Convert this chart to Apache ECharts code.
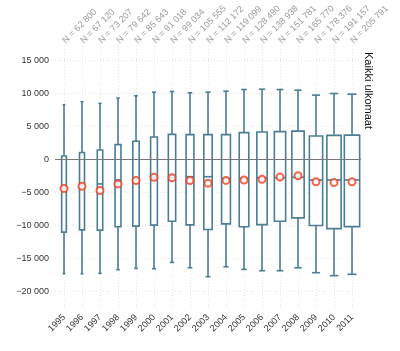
<!DOCTYPE html>
<html>
<head>
<meta charset="utf-8">
<script src="https://cdn.jsdelivr.net/npm/echarts@6/dist/echarts.min.js"></script>
<style>html,body{margin:0;padding:0;background:#fff}#c{width:400px;height:351px}</style>
</head>
<body>
<div id="c"></div>
<script>
var years = ['1995','1996','1997','1998','1999','2000','2001','2002','2003','2004','2005','2006','2007','2008','2009','2010','2011'];
var nCounts = [62800, 67120, 73207, 79642, 85643, 91018, 99034, 105555, 112172, 119099, 128490, 138938, 151781, 165770, 178376, 191157, 205791];
var whiskerHigh = [8300, 8750, 8500, 9300, 9650, 10200, 10300, 10100, 10200, 10350, 10600, 10650, 10600, 10500, 9750, 10000, 9900];
var q3 = [540, 1050, 1450, 2260, 2760, 3400, 3800, 3770, 3770, 3770, 4070, 4160, 4220, 4300, 3560, 3660, 3700];
var median = [-4400, -3900, -3700, -3100, -3000, -2700, -2800, -2600, -2600, -2870, -2870, -2770, -2800, -2700, -3100, -3100, -3100];
var q1 = [-11000, -10660, -10700, -10200, -10100, -9950, -9350, -9900, -10600, -9760, -10200, -9860, -9350, -8850, -10000, -10470, -10170];
var whiskerLow = [-17300, -17300, -17250, -16700, -16500, -16550, -15600, -16400, -17750, -16250, -16650, -16850, -16850, -16400, -17150, -17600, -17400];
var means = [-4400, -4050, -4700, -3700, -3200, -2700, -2770, -3200, -3600, -3170, -3100, -3000, -2670, -2470, -3380, -3500, -3380];
var yTicks = [-20000, -15000, -10000, -5000, 0, 5000, 10000, 15000];
var panelTitle = 'Kaikki ulkomaat';

function fmtNum(v) {
  var a = Math.abs(v);
  var s = String(a).replace(/\B(?=(\d{3})+(?!\d))/g, ' ');
  return (v < 0 ? '\u2212' : '') + s;
}

var nMax = Math.max.apply(null, nCounts);
var boxData = years.map(function (y, i) {
  return [i, whiskerLow[i], q1[i], median[i], q3[i], whiskerHigh[i], nCounts[i]];
});
var BOX = '#4b7d94';
var GRID = {color: '#dcdcdc', type: [1, 2], width: 0.8};

var chart = echarts.init(document.getElementById('c'), null, {renderer: 'canvas'});
chart.setOption({
  animation: false,
  backgroundColor: '#fff',
  textStyle: {fontFamily: 'Liberation Sans, Arial, sans-serif'},
  grid: {left: 55, right: 39, top: 44, bottom: 43},
  xAxis: [{
    type: 'category', data: years, position: 'bottom',
    axisLine: {show: false}, axisTick: {show: false}, splitLine: {show: false},
    axisLabel: {rotate: 45, fontSize: 9, color: '#333', margin: 8}
  }, {
    type: 'category', data: years, position: 'top',
    axisLine: {show: false}, axisTick: {show: false}, splitLine: {show: false},
    axisLabel: {rotate: -45, fontSize: 9, color: '#999', margin: 2,
      formatter: function (v, i) { return 'N = ' + fmtNum(nCounts[i]); }}
  }],
  yAxis: {
    type: 'value', min: -22500, max: 17500, interval: 2500,
    axisLine: {show: false}, axisTick: {show: false}, splitLine: {show: false},
    axisLabel: {fontSize: 9, color: '#333', margin: 6,
      formatter: function (v) { return (v % 5000 === 0) ? fmtNum(v) : ''; }}
  },
  graphic: [{
    type: 'text', x: 368.5, y: 52, rotation: -Math.PI / 2,
    style: {text: panelTitle, fontSize: 11, fill: '#111', textAlign: 'left', textVerticalAlign: 'middle',
      fontFamily: 'Liberation Sans, Arial, sans-serif'}
  }],
  series: [{
    type: 'scatter', data: [], z: 1, silent: true,
    markLine: {
      z: 1, silent: true, symbol: 'none', animation: false, label: {show: false},
      data: yTicks.filter(function (t) { return t !== 0; }).map(function (t) {
        return {yAxis: t, lineStyle: GRID};
      }).concat(years.map(function (y) {
        return {xAxis: y, lineStyle: GRID};
      }))
    }
  }, {
    type: 'custom', z: 3, data: boxData,
    encode: {x: 0, y: [1, 2, 3, 4, 5]},
    renderItem: function (params, api) {
      var idx = api.value(0);
      var band = api.size([1, 0])[0];
      var w = band * 0.85 * api.value(6) / nMax;
      var cap = w * 0.6;
      var pLow = api.coord([idx, api.value(1)]);
      var pQ1 = api.coord([idx, api.value(2)]);
      var pMed = api.coord([idx, api.value(3)]);
      var pQ3 = api.coord([idx, api.value(4)]);
      var pHigh = api.coord([idx, api.value(5)]);
      var x = pMed[0];
      var st = {stroke: BOX, lineWidth: 1.6, fill: null};
      return {type: 'group', children: [
        {type: 'line', shape: {x1: x, y1: pHigh[1], x2: x, y2: pQ3[1]}, style: st},
        {type: 'line', shape: {x1: x, y1: pQ1[1], x2: x, y2: pLow[1]}, style: st},
        {type: 'line', shape: {x1: x - cap / 2, y1: pHigh[1], x2: x + cap / 2, y2: pHigh[1]}, style: st},
        {type: 'line', shape: {x1: x - cap / 2, y1: pLow[1], x2: x + cap / 2, y2: pLow[1]}, style: st},
        {type: 'rect', shape: {x: x - w / 2, y: pQ3[1], width: w, height: pQ1[1] - pQ3[1]},
          style: {stroke: BOX, lineWidth: 1.6, fill: '#fff'}},
        {type: 'line', shape: {x1: x - w / 2, y1: pMed[1], x2: x + w / 2, y2: pMed[1]}, style: st}
      ]};
    }
  }, {
    type: 'scatter', data: [], z: 4, silent: true,
    markLine: {
      z: 4, silent: true, symbol: 'none', animation: false, label: {show: false},
      data: [{yAxis: 0, lineStyle: {color: '#777', type: 'solid', width: 1}}]
    }
  }, {
    type: 'scatter', z: 5, data: means.map(function (m, i) { return [years[i], m]; }),
    symbol: 'emptyCircle', symbolSize: 7,
    itemStyle: {color: '#f23d1c', borderColor: '#f23d1c', borderWidth: 1.6}
  }]
});
</script>
</body>
</html>
